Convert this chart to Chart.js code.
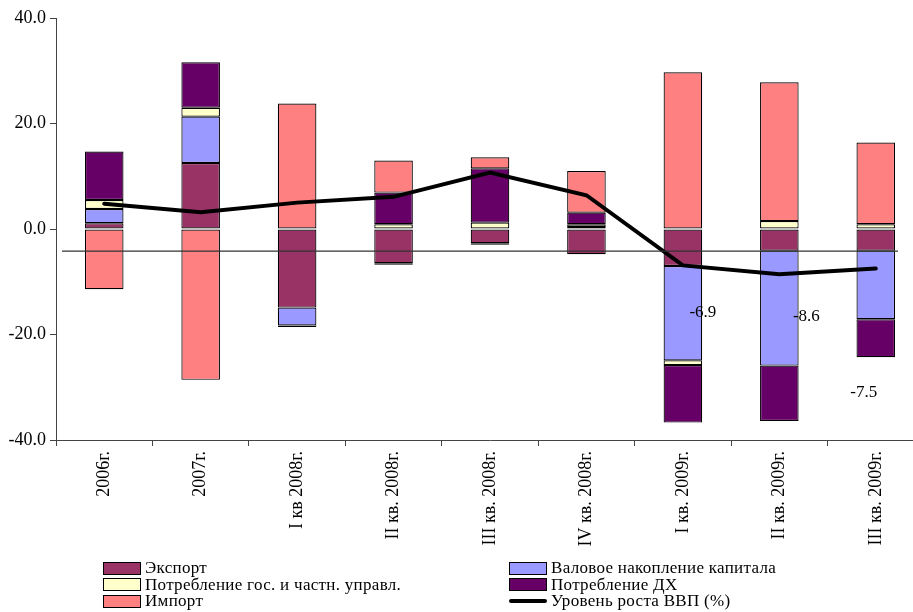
<!DOCTYPE html>
<html>
<head>
<meta charset="utf-8">
<script src="https://cdn.jsdelivr.net/npm/chart.js@4.4.1/dist/chart.umd.min.js"></script>
<style>
  html, body { margin: 0; padding: 0; background: #fff; overflow: hidden; }
  #wrap { position: relative; width: 925px; height: 612px; }
  #legend {
    position: absolute; left: 103px; top: 560px;
    display: grid; grid-template-columns: 406px auto; grid-auto-rows: 16.5px;
    font-family: "Liberation Serif", "Times New Roman", serif; font-size: 17px; letter-spacing: 0.3px; color: #000;
    line-height: 16px;
  }
  .item { display: flex; align-items: center; white-space: nowrap; }
  .box { width: 36px; height: 11px; border: 1px solid #000; margin-right: 4px; }
  .ln { width: 38px; height: 4px; background: #000; border-radius: 2px; margin-right: 4px; }
</style>
</head>
<body>
<div id="wrap">
  <canvas id="chart" width="925" height="612"></canvas>
  <div id="legend"></div>
</div>
<script>
const categories = ["2006г.", "2007г.", "I кв 2008г.", "II кв. 2008г.", "III кв. 2008г.",
  "IV кв. 2008г.", "I кв. 2009г.", "II кв. 2009г.", "III кв. 2009г."];
const eksport = [1.1, 12.5, -14.9, -6.5, -2.7, -4.8, -7.0, -4.1, -4.1];
const valovoe = [2.7, 8.8, -3.4, -0.3, -0.3, 0.4, -17.9, -21.8, -13.0];
const gosPotr = [1.7, 1.7, -0.3, 0.9, 1.2, 0.5, -0.9, 1.5, 0.9];
const dhPotr = [9.2, 8.6, null, 6.0, 10.3, 2.2, -10.9, -10.5, -7.2];
const importVals = [-11.4, -28.6, 23.8, 6.1, 2.1, 7.9, 29.7, 26.3, 15.5];
const vvp = [4.8, 3.2, 5.0, 6.1, 10.7, 6.4, -6.9, -8.6, -7.5];
const yTicks = [-40, -20, 0, 20, 40];
const labelledPoints = [6, 7, 8];
const refLevel = -4.2;

const serif = "'Liberation Serif', 'Times New Roman', serif";

function barSet(label, data, color) {
  return {
    type: "bar", label, data,
    backgroundColor: color, borderColor: "#000", borderWidth: 1.2, borderSkipped: false,
    stack: "parts", order: 1,
    barPercentage: 0.4, categoryPercentage: 1
  };
}

// тонкая горизонтальная линия и подписи последних точек
const extras = {
  id: "extras",
  afterDatasetsDraw(chart) {
    const { ctx, chartArea, scales } = chart;
    const y = scales.y.getPixelForValue(refLevel);
    ctx.save();
    ctx.strokeStyle = "#333";
    ctx.lineWidth = 1.3;
    ctx.beginPath();
    ctx.moveTo(chartArea.left + 6, y);
    ctx.lineTo(chartArea.right - 26, y);
    ctx.stroke();

    const meta = chart.getDatasetMeta(5);
    const shifts = [[20, 47], [27, 42], [-12, 124]];
    ctx.fillStyle = "#000";
    ctx.font = "17px " + serif;
    ctx.textAlign = "center";
    ctx.textBaseline = "middle";
    labelledPoints.forEach((idx, k) => {
      const p = meta.data[idx];
      ctx.fillText(vvp[idx].toFixed(1), p.x + shifts[k][0], p.y + shifts[k][1]);
    });
    ctx.restore();
  }
};

const chart = new Chart(document.getElementById("chart"), {
  data: {
    labels: categories,
    datasets: [
      barSet("Экспорт", eksport, "#993366"),
      barSet("Валовое накопление капитала", valovoe, "#9999FF"),
      barSet("Потребление гос. и частн. управл.", gosPotr, "#FFFFCC"),
      barSet("Потребление ДХ", dhPotr, "#660066"),
      barSet("Импорт", importVals, "#FF8080"),
      {
        type: "line", label: "Уровень роста ВВП (%)", data: vvp,
        borderColor: "#000", borderWidth: 4, pointRadius: 0, tension: 0,
        stack: "gdp", order: 0, borderCapStyle: "round"
      }
    ]
  },
  options: {
    responsive: false,
    animation: false,
    layout: { padding: { top: 18, right: 1, left: 0, bottom: 0 } },
    plugins: { legend: { display: false }, tooltip: { enabled: false } },
    scales: {
      x: {
        stacked: true,
        grid: { display: true, drawOnChartArea: false, drawTicks: true, tickLength: 6, color: "#444", offset: true },
        border: { display: true, color: "#444", width: 1 },
        ticks: { color: "#000", font: { family: serif, size: 18 }, minRotation: 90, maxRotation: 90, padding: 5, autoSkip: false },
        afterFit(scale) { scale.height = 172; }
      },
      y: {
        stacked: true,
        min: -40, max: 40,
        afterBuildTicks(scale) { scale.ticks = yTicks.map(v => ({ value: v })); },
        grid: { display: true, drawOnChartArea: false, drawTicks: true, tickLength: 6, color: "#444" },
        border: { display: true, color: "#444", width: 1 },
        ticks: { color: "#000", font: { family: serif, size: 18 }, padding: 4, callback: v => v.toFixed(1) },
        afterFit(scale) { scale.width = 56; }
      }
    }
  },
  plugins: [extras]
});

// легенда в две колонки
const legend = document.getElementById("legend");
chart.data.datasets.forEach(ds => {
  const item = document.createElement("div");
  item.className = "item";
  const mark = document.createElement("span");
  if (ds.type === "line") {
    mark.className = "ln";
  } else {
    mark.className = "box";
    mark.style.background = ds.backgroundColor;
  }
  item.appendChild(mark);
  item.appendChild(document.createTextNode(ds.label));
  legend.appendChild(item);
});
</script>
</body>
</html>
